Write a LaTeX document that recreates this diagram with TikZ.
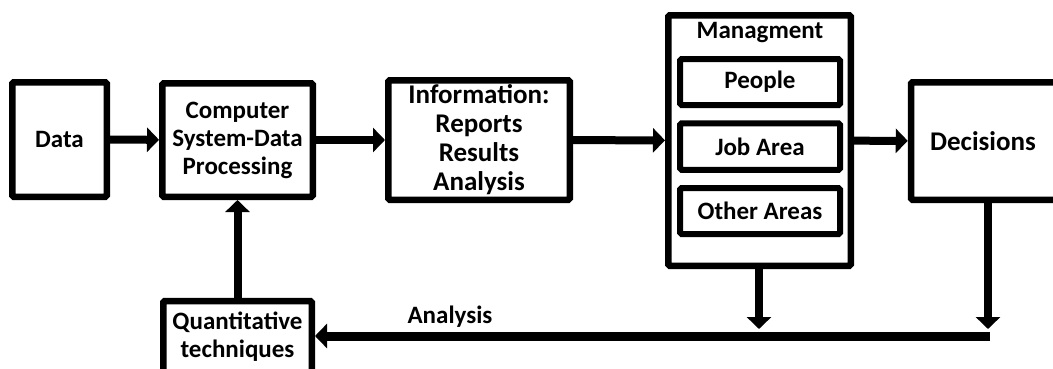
\documentclass[tikz,border=0pt]{standalone}
\usepackage{fontspec}
\setmainfont{Carlito}
\usetikzlibrary{arrows.meta}
\begin{document}
\begin{tikzpicture}[x=1pt,y=-1pt,
  box/.style={draw, line width=6.5pt, rounded corners=1.5pt, align=center, inner sep=0pt,
    font=\bfseries\fontsize{25}{28}\selectfont},
  bigtext/.style={font=\bfseries\fontsize{27}{29}\selectfont},
  ibox/.style={box, line width=6pt},
  arr/.style={line width=8pt, -{Triangle[width=24pt,length=12pt]}},
  lbl/.style={font=\bfseries\fontsize{25}{28}\selectfont, inner sep=0pt}]
\useasboundingbox (0,0) rectangle (1053,368);
\clip (0,0) rectangle (1053,368);
\node[box, minimum width=94.5pt, minimum height=114.5pt] (Data) at (59.5,139.5) {Data};
\node[box, minimum width=150.5pt, minimum height=113.5pt] (Comp) at (237.5,140) {Computer\\System-Data\\Processing};
\node[box, bigtext, minimum width=181.5pt, minimum height=119.5pt] (Info) at (479,140) {Information:\\Reports\\Results\\Analysis};
\node[box, minimum width=182.5pt, minimum height=250.5pt] (Mgmt) at (759.5,140.5) {};
\node[lbl] (MgmtT) at (760,33) {Managment};
\node[ibox, minimum width=160pt, minimum height=46pt] (People) at (760,82) {People};
\node[ibox, minimum width=160pt, minimum height=46.5pt] (Job) at (760,146.5) {Job Area};
\node[ibox, minimum width=160pt, minimum height=46pt] (Other) at (760,211) {Other Areas};
\node[box, bigtext, minimum width=150pt, minimum height=117.5pt] (Dec) at (986,141) {\hspace*{-6pt}Decisions};
\node[box, minimum width=148.5pt, minimum height=72pt] (Quant) at (237.5,337) {Quantitative\\techniques};
\coordinate (br) at (990,336);
\coordinate (t1) at (759,329);
\coordinate (t2) at (988,329);
\draw[arr] (Data) -- (Comp);
\draw[arr] (Comp) -- (Info);
\draw[arr] (Info) -- (Mgmt);
\draw[arr] (Mgmt) -- (Dec);
\draw[arr] (Quant) -- (Comp);
\draw[arr] (Mgmt.south -| t1) -- (t1);
\draw[arr] (Dec.south -| t2) -- (t2);
\draw[line width=9pt, -{Triangle[width=24pt,length=12pt]}] (br) -- (Quant.east |- br);
\node[lbl] (An) at (450,317) {Analysis};
\end{tikzpicture}
\end{document}
